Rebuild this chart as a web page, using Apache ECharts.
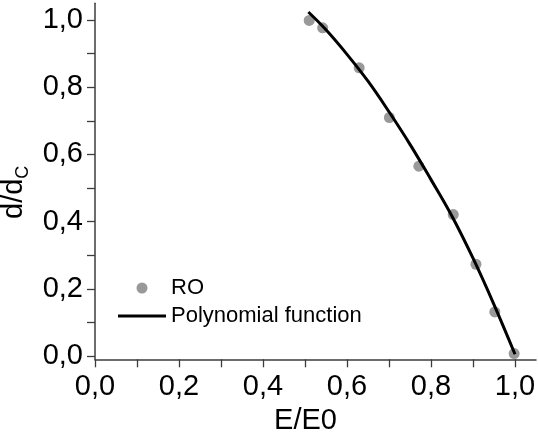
<!DOCTYPE html>
<html>
<head>
<meta charset="utf-8">
<script src="https://cdn.jsdelivr.net/npm/echarts@6/dist/echarts.min.js"></script>
<style>
html,body{margin:0;padding:0;background:#fff;}
#chart{width:538px;height:434px;}
</style>
</head>
<body>
<div id="chart"></div>
<script>
// Measured data points (RO)
var roX = [0.510, 0.542, 0.629, 0.701, 0.771, 0.853, 0.907, 0.952, 0.998];
var roY = [0.999, 0.977, 0.858, 0.710, 0.565, 0.421, 0.273, 0.131, 0.007];
// Polynomial function curve
var polyX = [0.508, 0.55, 0.60, 0.65, 0.70, 0.75, 0.80, 0.85, 0.90, 0.95, 1.00];
var polyY = [1.024, 0.971, 0.898, 0.818, 0.727, 0.630, 0.525, 0.416, 0.291, 0.153, 0.005];
// Tick values
var majorTicks = [0, 0.2, 0.4, 0.6, 0.8, 1.0];
var minorTicks = [0, 0.1, 0.2, 0.3, 0.4, 0.5, 0.6, 0.7, 0.8, 0.9, 1.0];
var seriesNames = ['RO', 'Polynomial function'];

var FONT = '"Liberation Sans", Arial, sans-serif';
function fmt(v){ return v.toFixed(1).replace('.', ','); }
function pairs(xs, ys){ return xs.map(function(x, i){ return [x, ys[i]]; }); }

var axisColor = '#3c3c3c';
var chart = echarts.init(document.getElementById('chart'), null, {renderer: 'canvas'});
chart.setOption({
  animation: false,
  backgroundColor: '#ffffff',
  textStyle: {fontFamily: FONT},
  grid: {left: 95, right: 2, top: 3.3, bottom: 74.7, outerBoundsMode: 'none', containLabel: false},
  legend: {
    orient: 'vertical', left: 113, top: 272,
    itemWidth: 48, itemHeight: 11, itemGap: 6,
    textStyle: {fontSize: 22, color: '#000', fontFamily: FONT},
    data: [
      {name: seriesNames[0], icon: 'circle'},
      {name: seriesNames[1], icon: 'path://M0 0H16V1H0Z', itemStyle: {color: '#000'}}
    ]
  },
  xAxis: {
    type: 'value', min: 0, max: 1.05,
    name: 'E/E0', nameLocation: 'middle', nameGap: 42,
    nameTextStyle: {fontSize: 29, color: '#000', fontFamily: FONT, padding: [0, 20, 0, 0]},
    axisLine: {show: true, onZero: false, lineStyle: {color: axisColor, width: 1.5}},
    axisTick: {show: true, inside: false, length: 8, customValues: minorTicks, lineStyle: {color: axisColor, width: 1.3}},
    axisLabel: {customValues: majorTicks, formatter: fmt, fontSize: 29, color: '#000', margin: 13, fontFamily: FONT},
    splitLine: {show: false}
  },
  yAxis: {
    type: 'value', min: -0.01, max: 1.05,
    name: '{a|d/d}{b|C}', nameLocation: 'middle', nameGap: 59, nameRotate: 90,
    nameTextStyle: {
      color: '#000', fontFamily: FONT,
      padding: [0, 22, 0, 0],
      rich: {
        a: {fontSize: 29, lineHeight: 36, color: '#000', fontFamily: FONT},
        b: {fontSize: 18, lineHeight: 18, verticalAlign: 'bottom', color: '#000', fontFamily: FONT}
      }
    },
    axisLine: {show: true, onZero: false, lineStyle: {color: axisColor, width: 1.5}},
    axisTick: {show: true, inside: false, length: 8, customValues: minorTicks, lineStyle: {color: axisColor, width: 1.3}},
    axisLabel: {customValues: majorTicks, formatter: fmt, fontSize: 29, color: '#000', margin: 12, fontFamily: FONT},
    splitLine: {show: false}
  },
  series: [
    {
      name: seriesNames[0], type: 'scatter',
      data: pairs(roX, roY),
      symbol: 'circle', symbolSize: 11,
      itemStyle: {color: '#7f7f7f'},
      z: 2
    },
    {
      name: seriesNames[1], type: 'line',
      data: pairs(polyX, polyY),
      smooth: 0.4, symbol: 'none', showSymbol: false,
      lineStyle: {color: '#000', width: 3},
      itemStyle: {color: '#000'},
      z: 3
    }
  ]
});
</script>
</body>
</html>
